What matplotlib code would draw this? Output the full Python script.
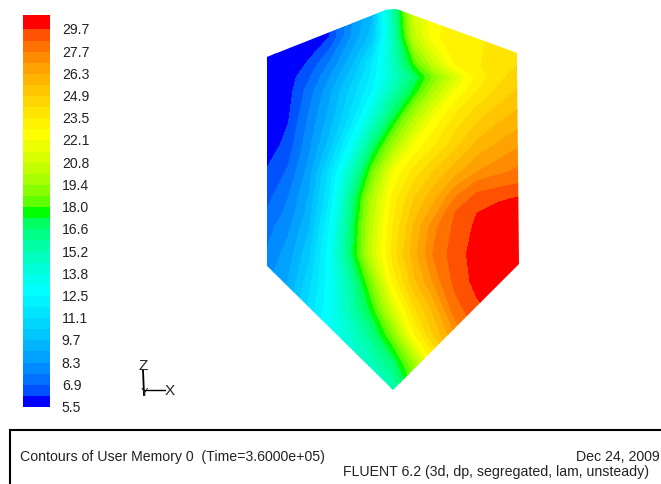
import numpy as np
import matplotlib
matplotlib.use("Agg")
import matplotlib.pyplot as plt
from matplotlib.colors import ListedColormap, BoundaryNorm
from matplotlib.lines import Line2D
from matplotlib.patches import Polygon
from matplotlib.transforms import ScaledTranslation

plt.rcParams['font.family'] = ['Liberation Sans', 'DejaVu Sans']

W, H = 661, 485

# colour scale labels, bottom to top
legend_labels = ["5.5", "6.9", "8.3", "9.7", "11.1", "12.5", "13.8", "15.2", "16.6",
                 "18.0", "19.4", "20.8", "22.1", "23.5", "24.9", "26.3", "27.7", "29.7"]
legend_values = [float(s) for s in legend_labels]
scale_top = 30.4

# field sampled across the wall, top row first
field_x = np.arange(13)
field_z = [14, 13, 12, 11.5, 11, 10, 9, 8, 7.03, 6.5, 6, 5, 4, 3, 2, 1, 0]
row_00 = [5.5, 5.5, 5.5, 6.5, 8.0, 9.5, 15.5, 21.0, 22.6, 23.0, 23.3, 23.5, 23.7]
row_01 = [5.5, 5.5, 5.6, 6.2, 8.3, 10.0, 15.0, 20.5, 22.7, 23.1, 23.4, 23.6, 23.8]
row_02 = [5.5, 5.6, 6.3, 7.7, 9.4, 11.7, 14.8, 18.0, 20.8, 22.9, 23.4, 23.9, 24.2]
row_02b = [5.5, 5.8, 6.8, 8.3, 10.0, 12.0, 14.5, 16.7, 19.0, 21.2, 23.0, 24.0, 24.6]
row_03 = [5.5, 5.9, 7.2, 8.8, 10.6, 12.4, 15.3, 17.4, 20.0, 22.2, 23.5, 24.3, 25.0]
row_04 = [5.5, 6.1, 7.7, 9.3, 11.3, 14.2, 17.1, 20.0, 22.3, 23.7, 24.7, 25.4, 25.9]
row_05 = [5.7, 6.5, 8.1, 10.0, 12.9, 16.5, 19.5, 22.2, 23.5, 24.7, 25.8, 26.4, 26.9]
row_06 = [6.3, 7.0, 8.6, 11.4, 14.8, 18.5, 22.1, 23.8, 25.0, 26.1, 27.0, 27.5, 27.9]
row_07 = [6.7, 7.6, 9.1, 11.9, 16.1, 20.0, 23.1, 24.9, 26.2, 27.8, 29.2, 29.55, 29.8]
row_07b = [7.0, 7.8, 9.3, 12.2, 16.3, 20.3, 23.3, 25.3, 26.8, 28.8, 29.7, 30.1, 30.3]
row_08 = [7.3, 8.1, 9.6, 12.6, 16.6, 20.6, 23.5, 25.7, 27.5, 29.0, 29.9, 30.3, 30.3]
row_09 = [7.7, 8.6, 10.2, 13.0, 16.8, 20.8, 23.8, 26.0, 27.9, 29.3, 30.1, 30.3, 30.4]
row_10 = [8.2, 9.0, 10.8, 13.0, 15.6, 19.0, 23.0, 25.4, 27.2, 29.1, 30.0, 30.3, 30.4]
row_11 = [9.0, 9.5, 11.3, 13.0, 15.3, 17.6, 21.2, 24.1, 26.0, 28.3, 29.5, 30.0, 30.4]
row_12 = [11.0, 11.5, 12.2, 13.0, 14.4, 16.2, 18.8, 22.6, 25.0, 27.0, 28.5, 29.5, 30.0]
row_13 = [11.5, 12.0, 12.8, 13.5, 14.2, 15.0, 16.6, 19.5, 23.0, 25.5, 27.5, 29.0, 30.0]
row_14 = [12.0, 12.5, 13.0, 14.0, 14.5, 14.8, 15.2, 18.0, 21.5, 24.0, 26.0, 28.0, 29.5]
field = np.array([row_00, row_01, row_02, row_02b, row_03, row_04, row_05, row_06, row_07,
                  row_07b, row_08, row_09, row_10, row_11, row_12, row_13, row_14])

# wall outline in the same units as field_x / field_z
outline_x = [0.0, 5.67, 6.14, 11.9, 12.0, 6.0, 0.0]
outline_z = [12.24, 13.97, 14.0, 12.39, 4.63, 0.0, 4.56]

# footer text
footer_left = "Contours of User Memory 0  (Time=3.6000e+05)"
footer_date = "Dec 24, 2009"
footer_solver = "FLUENT 6.2 (3d, dp, segregated, lam, unsteady)"

# 35 bands: label values sit on every second band edge
n_bands = 35
levels = np.append(np.interp(np.arange(35) / 2, np.arange(18), legend_values), scale_top)


def band_colors():
    out = []
    for i in range(n_bands):
        if i <= 10:
            out.append((0, np.sqrt(i / 10), 1))
        elif i <= 17:
            out.append((0, 1, np.sqrt((17 - i) / 7)))
        elif i <= 24:
            out.append((np.sqrt((i - 17) / 7), 1, 0))
        else:
            out.append((1, np.sqrt(max(34 - i, 0) / 10), 0))
    return out


cmap = ListedColormap(band_colors())
norm = BoundaryNorm(levels, cmap.N)

fig = plt.figure(figsize=(W / 100, H / 100), dpi=100, facecolor='white')


def axes_px(x0, y0, x1, y1):
    return fig.add_axes([x0 / W, 1 - y1 / H, (x1 - x0) / W, (y1 - y0) / H])


def fx(x):
    return x / W


def fy(y):
    return 1 - y / H


# contour field
ax = axes_px(267, 10, 519, 391)
ax.set_xlim(0, 12)
ax.set_ylim(0, 14)
ax.axis('off')
cs = ax.contourf(field_x, field_z, field, levels=levels, cmap=cmap, norm=norm, extend='both')
clip = Polygon(np.column_stack([outline_x, outline_z]), closed=True,
               transform=ax.transData, facecolor='none', edgecolor='none')
ax.add_patch(clip)
cs.set_clip_path(clip)

# colour scale: top band is a little taller than the others
band_edges = np.append(np.arange(n_bands), n_bands + 0.3)
cax = axes_px(23, 16, 50, 408)
cax.pcolormesh([0, 1], band_edges, np.arange(n_bands).reshape(-1, 1),
               cmap=cmap, vmin=-0.5, vmax=n_bands - 0.5)
cax.set_xlim(0, 1)
cax.set_ylim(0, n_bands + 0.3)
cax.set_xticks([])
cax.yaxis.tick_right()
cax.set_yticks(np.arange(0, 36, 2)[:18], legend_labels, fontsize=10.1, color='#222222')
cax.tick_params(axis='y', length=0, pad=8.5)
lift = ScaledTranslation(0, 1.5 / 100, fig.dpi_scale_trans)
for lab in cax.get_yticklabels():
    lab.set_transform(lab.get_transform() + lift)
for s in cax.spines.values():
    s.set_visible(False)

# coordinate triad
fig.add_artist(Line2D([fx(143), fx(144)], [fy(371), fy(396)], color='black', lw=1.3))
fig.add_artist(Line2D([fx(144), fx(165)], [fy(391), fy(391)], color='black', lw=1.0))
fig.text(fx(143), fy(366), "Z", ha='center', va='center', fontsize=11, color='#222222')
fig.text(fx(170), fy(391), "X", ha='center', va='center', fontsize=11, color='#222222')
fig.text(fx(144), fy(393), "Y", ha='center', va='center', fontsize=8, color='#222222')

# footer box
fig.add_artist(Line2D([fx(10), fx(10), fx(661)], [fy(485), fy(431), fy(431)],
                      color='black', lw=1.5, solid_joinstyle='miter'))
fig.text(fx(20), fy(457), footer_left, ha='left', va='center', fontsize=10.2, color='#222222')
fig.text(fx(660), fy(457), footer_date, ha='right', va='center', fontsize=10.2, color='#222222')
fig.text(fx(649), fy(472), footer_solver, ha='right', va='center', fontsize=10.2, color='#222222')

fig.savefig("out.png", dpi=100)
